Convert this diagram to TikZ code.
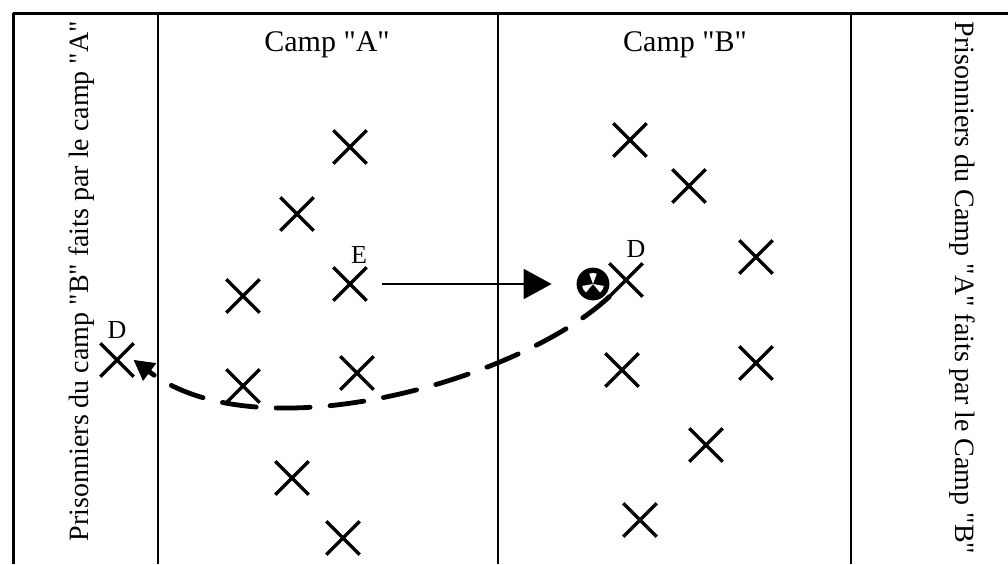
\documentclass[tikz,border=0pt]{standalone}
\usepackage{fontspec}
\setmainfont{Liberation Serif}
\usetikzlibrary{arrows.meta,shapes.misc}
\newcommand{\qt}[1]{\textquotedbl#1\textquotedbl}
\tikzset{
  player/.style={cross out, draw=black, line width=1.7pt, minimum size=15pt,
                 inner sep=0pt},
  camplbl/.style={font=\fontsize{15}{18}\selectfont},
  sidelbl/.style={font=\fontsize{14}{17}\selectfont},
  tag/.style={font=\fontsize{13}{15}\selectfont, inner sep=1pt},
  frame/.style={line width=1pt, black},
  arrow/.style={-{Triangle[length=14pt, width=15pt]}, line width=1pt},
  chase/.style={-{Triangle[length=10pt, width=11pt, fill=black, line width=0.4pt]},
                line width=2.4pt, dash pattern=on 17pt off 10pt, line cap=round},
}
\begin{document}
\begin{tikzpicture}[x=0.5pt, y=-0.5pt]
  \useasboundingbox (0,0) rectangle (1008,564);
  % field lines
  \draw[frame, line width=1.5pt] (13,13) -- (1008,13);
  \draw[frame, line width=1.5pt] (13,13) -- (13,564);
  \draw[frame] (158,13) -- (158,564);
  \draw[frame] (498,13) -- (498,564);
  \draw[frame] (851,13) -- (851,564);
  % labels
  \node[camplbl] (campA) at (327,45) {Camp \qt{A}};
  \node[camplbl] (campB) at (685,45) {Camp \qt{B}};
  \node[sidelbl, rotate=90] (prisA) at (82,281) {Prisonniers du camp \qt{B} faits par le camp \qt{A}};
  \node[sidelbl, rotate=-90] (prisB) at (962,288) {Prisonniers du Camp \qt{A} faits par le Camp \qt{B}};
  % camp A
  \node[player] (a1) at (350,147) {};
  \node[player] (a2) at (297,214) {};
  \node[player] (a3) at (243,296) {};
  \node[player] (e) at (350,284) {};
  \node[player] (a4) at (243,386) {};
  \node[player] (a5) at (357,373) {};
  \node[player] (a6) at (292,478) {};
  \node[player] (a7) at (343,538) {};
  % camp B
  \node[player] (b1) at (630,140) {};
  \node[player] (b2) at (689,186) {};
  \node[player] (b3) at (756,257) {};
  \node[player] (dB) at (626,280) {};
  \node[player] (b4) at (622,370) {};
  \node[player] (b5) at (756,363) {};
  \node[player] (b6) at (706,445) {};
  \node[player] (b7) at (640,520) {};
  % prisoner
  \node[player] (dA) at (117,360) {};
  \node[tag] (tagdA) at (117,330) {D};
  \node[tag] (tage) at (359,255) {E};
  \node[tag] (tagdB) at (636,249) {D};
  % ball
  \node[circle, draw, line width=1.4pt, fill=black, minimum size=15pt, inner sep=0pt] (ball) at (593,284) {};
  \foreach \ang in {30,150,270}
    \fill[white] (ball.center) -- ++(\ang-20:11) arc[start angle=\ang-20, end angle=\ang+20, radius=11] -- cycle;
  % moves
  \draw[arrow, shorten <=7.5pt, shorten >=12.5pt] (e) -- (ball);
  \draw[chase] (dB.south west) .. controls (520,380) and (260,455) .. (dA.east);
\end{tikzpicture}
\end{document}
